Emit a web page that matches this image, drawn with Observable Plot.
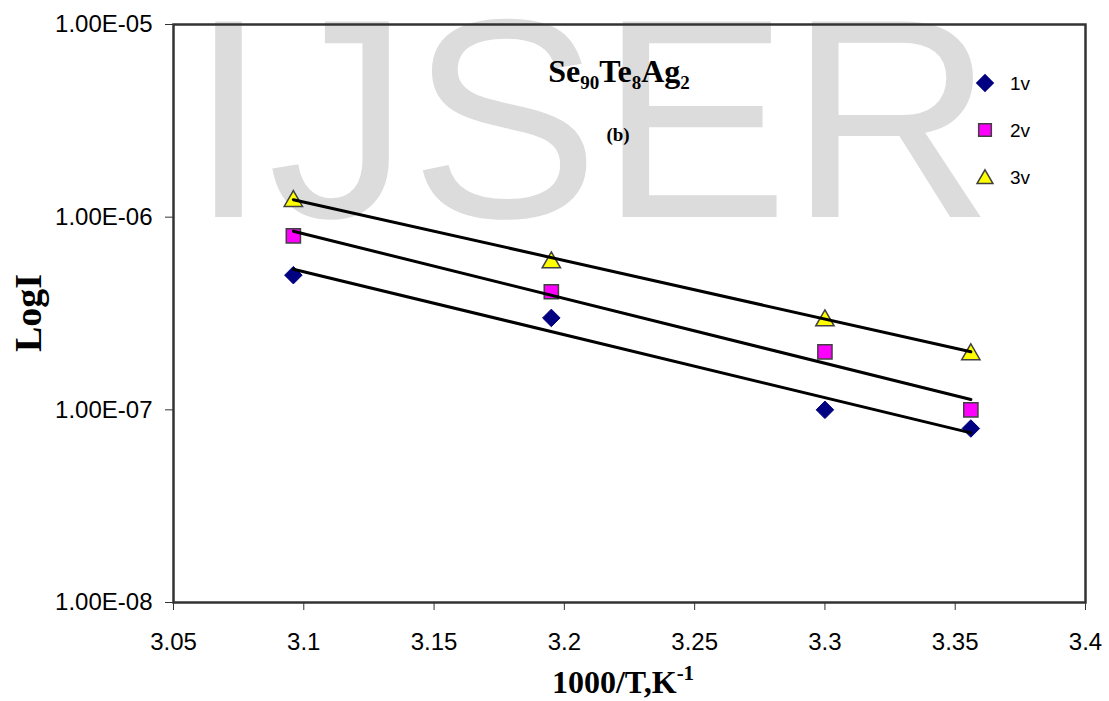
<!DOCTYPE html>
<html><head><meta charset="utf-8">
<script src="https://cdn.jsdelivr.net/npm/d3@7"></script>
<script src="https://cdn.jsdelivr.net/npm/@observablehq/plot@0.6"></script>
<style>
html,body{margin:0;padding:0;background:#fff;}
#chart{position:relative;width:1109px;height:701px;}
</style></head><body><div id="chart"></div>
<script>
// ---- data ----
const xValues = [3.096, 3.195, 3.300, 3.356];           // 1000/T, K^-1
const seriesNames = ["1v", "2v", "3v"];
const current1v = [5.0e-7, 3.0e-7, 1.0e-7, 8.0e-8];
const current2v = [8.0e-7, 4.1e-7, 2.0e-7, 1.0e-7];
const current3v = [1.25e-6, 6.0e-7, 3.0e-7, 2.0e-7];
const xTicks = [3.05, 3.1, 3.15, 3.2, 3.25, 3.3, 3.35, 3.4];
const yTicks = [1e-8, 1e-7, 1e-6, 1e-5];

const seriesValues = [current1v, current2v, current3v];
const rows = seriesNames.map((s, i) => xValues.map((x, j) => ({series: s, x, y: seriesValues[i][j]})));

// exponential (log-linear) least-squares trend lines, like Excel's exponential trendline
function fit(data) {
  const mx = d3.mean(data, d => d.x), my = d3.mean(data, d => Math.log10(d.y));
  let sxy = 0, sxx = 0;
  for (const d of data) { sxy += (d.x - mx) * (Math.log10(d.y) - my); sxx += (d.x - mx) ** 2; }
  const b = sxy / sxx, a = my - b * mx;
  const [x0, x1] = d3.extent(data, d => d.x);
  return [x0, x1].map(x => ({series: data[0].series, x, y: Math.pow(10, a + b * x)}));
}
const fitRows = rows.flatMap(fit);

const fmtE = d => {
  const [m, e] = d.toExponential(2).split("e");
  const n = Math.abs(+e);
  return m + "E" + (+e < 0 ? "-" : "+") + String(n).padStart(2, "0");
};
const fmtX = d => String(+d.toFixed(2));

const plot = Plot.plot({
  width: 1109, height: 701,
  marginLeft: 173, marginRight: 24, marginTop: 24, marginBottom: 99,
  style: {background: "transparent", fontFamily: "'Liberation Sans', Arial, sans-serif", fontSize: "24px", color: "#000"},
  x: {domain: [3.05, 3.4], ticks: xTicks, tickFormat: fmtX, label: null},
  y: {type: "log", domain: [1e-8, 1e-5], ticks: yTicks, tickFormat: fmtE, label: null},
  marks: [
    Plot.axisX({ticks: xTicks, tickFormat: fmtX, tickSize: 8, tickPadding: 22, stroke: "#333", label: null}),
    Plot.axisY({ticks: yTicks, tickFormat: fmtE, tickSize: 8, tickPadding: 13, stroke: "#333", label: null}),
    Plot.frame({stroke: "#333", strokeWidth: 2.5}),
    Plot.dot(rows[0], {x: "x", y: "y", symbol: "diamond2", r: 7.9, fill: "#000080", stroke: "#000080", strokeWidth: 1}),
    Plot.dot(rows[1], {x: "x", y: "y", symbol: "square", r: 8, fill: "#ff00ff", stroke: "#404040", strokeWidth: 1.5}),
    Plot.dot(rows[2], {x: "x", y: "y", symbol: "triangle", r: 6.8, dy: 2.6, fill: "#ffff00", stroke: "#404040", strokeWidth: 1.5}),
    Plot.line(fitRows, {x: "x", y: "y", z: "series", stroke: "#000", strokeWidth: 3})
  ]
});

const svg = d3.select(plot);
// watermark behind everything
svg.insert("text", ":first-child")
  .attr("x", 189).attr("y", 217).attr("text-anchor", "start")
  .attr("font-family", "'Liberation Sans', Arial, sans-serif")
  .attr("font-size", 284).attr("fill", "#dcdcdc")
  .text("IJSER");

const serif = "'Liberation Serif', 'Times New Roman', serif";
// title with subscripts
const t = svg.append("text").attr("x", 619).attr("y", 82).attr("text-anchor", "middle")
  .attr("font-family", serif).attr("font-weight", "bold").attr("font-size", 32).attr("fill", "#000");
[["Se", false], ["90", true], ["Te", false], ["8", true], ["Ag", false], ["2", true]].forEach(([s, sub], i, arr) => {
  const prevSub = i > 0 && arr[i - 1][1];
  const ts = t.append("tspan").text(s);
  if (sub) ts.attr("font-size", 19).attr("dy", 7);
  else if (prevSub) ts.attr("dy", -7);
});
svg.append("text").attr("x", 618).attr("y", 141).attr("text-anchor", "middle")
  .attr("font-family", serif).attr("font-weight", "bold").attr("font-size", 19).text("(b)");

// axis titles
const xl = svg.append("text").attr("x", 623).attr("y", 693).attr("text-anchor", "middle")
  .attr("font-family", serif).attr("font-weight", "bold").attr("font-size", 32);
xl.append("tspan").text("1000/T,K");
xl.append("tspan").attr("font-size", 21).attr("dy", -13).text("-1");
svg.append("text").attr("transform", "translate(41,313) rotate(-90)").attr("text-anchor", "middle")
  .attr("font-family", serif).attr("font-weight", "bold").attr("font-size", 38).text("LogI");

// legend
const legend = [
  {name: seriesNames[0], sym: d3.symbolDiamond2, size: 170, fill: "#000080", stroke: "#000080", y: 83, dy: 0},
  {name: seriesNames[1], sym: d3.symbolSquare, size: 160, fill: "#ff00ff", stroke: "#404040", y: 130, dy: 0},
  {name: seriesNames[2], sym: d3.symbolTriangle, size: 110, fill: "#ffff00", stroke: "#404040", y: 177, dy: 2}
];
legend.forEach(l => {
  svg.append("path").attr("d", d3.symbol(l.sym, l.size)())
    .attr("transform", `translate(985,${l.y + l.dy})`)
    .attr("fill", l.fill).attr("stroke", l.stroke).attr("stroke-width", 1.5);
  svg.append("text").attr("x", 1010).attr("y", l.y + 7).attr("text-anchor", "start")
    .attr("font-family", "'Liberation Sans', Arial, sans-serif").attr("font-size", 19).text(l.name);
});

document.getElementById("chart").appendChild(plot);
</script></body></html>
